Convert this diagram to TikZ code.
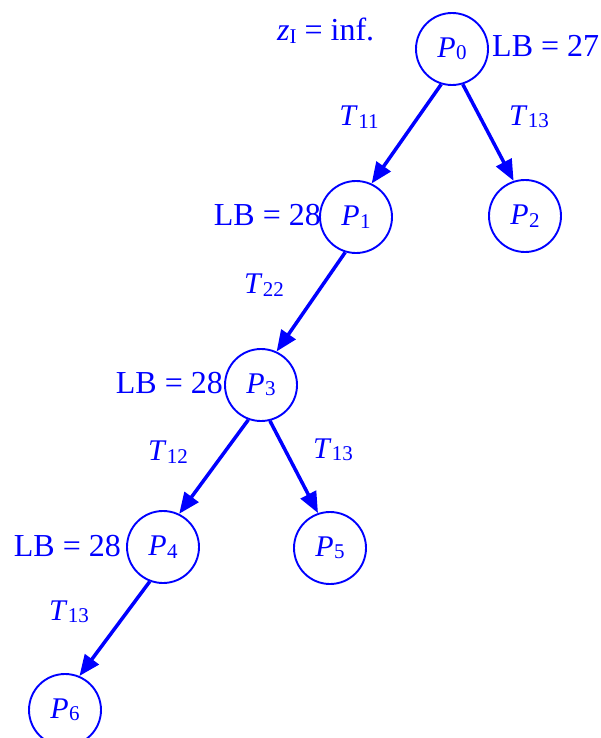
\documentclass[tikz,border=0pt]{standalone}
\usepackage{fontspec}
\setmainfont{Liberation Serif}
\usetikzlibrary{arrows.meta}
\definecolor{tb}{RGB}{0,0,255}
\tikzset{
  pnode/.style={circle,draw=tb,line width=1.9pt,minimum size=72pt,inner sep=0pt,text=tb,font=\fontsize{30}{35}\selectfont},
  lbl/.style={text=tb,inner sep=0pt,font=\fontsize{32}{37}\selectfont},
  tlbl/.style={text=tb,inner sep=0pt,font=\fontsize{30}{35}\selectfont},
  edge/.style={draw=tb,line width=3.5pt,-{Triangle[length=21pt,width=17pt]}}
}
\newcommand\lowsub[1]{\raisebox{-2.5pt}{\fontsize{21}{21}\selectfont #1}}
\newcommand\Pn[1]{\textit{P}\kern0.5pt\lowsub{#1}}
\newcommand\Tn[1]{\textit{T}\kern0.5pt\lowsub{#1}}
\begin{document}
\begin{tikzpicture}[x=1pt,y=-1pt]
\useasboundingbox (0,0) rectangle (600,738);
\node[pnode] (p0) at (452,49) {\Pn{0}};
\node[pnode] (p1) at (356,217) {\Pn{1}};
\node[pnode] (p2) at (525,216) {\Pn{2}};
\node[pnode] (p3) at (261,385) {\Pn{3}};
\node[pnode] (p4) at (163,547) {\Pn{4}};
\node[pnode] (p5) at (330,548) {\Pn{5}};
\node[pnode] (p6) at (65,710) {\Pn{6}};
\draw[edge] (p0.253) -- (p1.65);
\draw[edge] (p0.287) -- (p2.108);
\draw[edge] (p1.253) -- (p3.65);
\draw[edge] (p3.250) -- (p4.64);
\draw[edge] (p3.284) -- (p5.109);
\draw[edge] (p4.249) -- (p6.67);
\node[lbl,anchor=base west] (zi) at (277,41) {\textit{z}\lowsub{I} = inf.};
\node[lbl,anchor=base west] (lb0) at (492,57) {LB = 27};
\node[lbl,anchor=base east] (lb1) at (321,225) {LB = 28};
\node[lbl,anchor=base east] (lb3) at (223,393) {LB = 28};
\node[lbl,anchor=base east] (lb4) at (121,556) {LB = 28};
\node[tlbl] (t11) at (359,117) {\Tn{11}};
\node[tlbl] (t13a) at (529,117) {\Tn{13}};
\node[tlbl] (t22) at (264,285) {\Tn{22}};
\node[tlbl] (t12) at (168,452) {\Tn{12}};
\node[tlbl] (t13b) at (333,450) {\Tn{13}};
\node[tlbl] (t13c) at (69,612) {\Tn{13}};
\end{tikzpicture}
\end{document}
